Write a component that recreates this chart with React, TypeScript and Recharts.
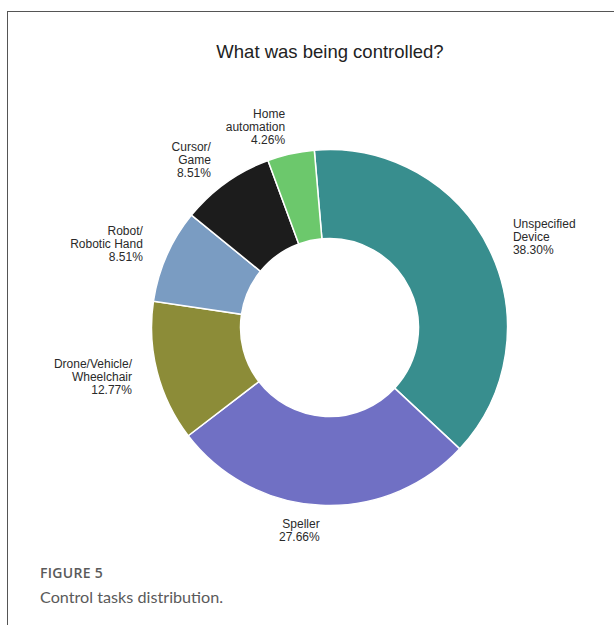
import React from "react";
import { PieChart, Pie, Cell } from "recharts";

const categories = [
  "Unspecified\nDevice",
  "Speller",
  "Drone/Vehicle/\nWheelchair",
  "Robot/\nRobotic Hand",
  "Cursor/\nGame",
  "Home\nautomation",
];
const counts = [18, 13, 6, 4, 4, 2];
const colors = ["#388E8E", "#7070C4", "#8C8C38", "#7A9CC2", "#1C1C1C", "#6CC86C"];
const title = "What was being controlled?";
const figureLabel = "FIGURE 5";
const caption = "Control tasks distribution.";

const data = categories.map((name, i) => ({ name, value: counts[i] }));

const RADIAN = Math.PI / 180;
const LABEL_GAP = 26;
const LINE_H = 13;

const renderLabel = (props: any) => {
  const { cx, cy, midAngle, outerRadius, percent, name } = props;
  const r = outerRadius + LABEL_GAP;
  const x = cx + r * Math.cos(-midAngle * RADIAN);
  const y = cy + r * Math.sin(-midAngle * RADIAN);
  const lines = [...String(name).split("\n"), (percent * 100).toFixed(2) + "%"];
  const anchor = x > cx + 1 ? "start" : "end";
  const n = lines.length;
  return (
    <text
      x={x}
      y={y}
      textAnchor={anchor}
      fill="#2a2a2a"
      fontSize={12}
      fontFamily="'Liberation Sans', Arial, sans-serif"
    >
      {lines.map((ln, i) => (
        <tspan key={i} x={x} y={y + 3 + (i - (n - 1) / 2) * LINE_H}>
          {ln}
        </tspan>
      ))}
    </text>
  );
};

export default function App() {
  return (
    <div
      style={{
        position: "absolute",
        left: 0,
        top: 0,
        width: 614,
        height: 625,
        background: "#fff",
        overflow: "hidden",
      }}
    >
      <div style={{ position: "absolute", left: 7, top: 11, width: 607, height: 1, background: "#555" }} />
      <div style={{ position: "absolute", left: 7, top: 11, width: 1, height: 614, background: "#555" }} />
      <div style={{ position: "absolute", left: 0, top: 0 }}>
        <PieChart width={614} height={625} margin={{ top: 0, right: 0, bottom: 0, left: 0 }}>
          <text
            x={330}
            y={58}
            textAnchor="middle"
            fontSize={18.5}
            fill="#222"
            fontFamily="'Liberation Sans', Arial, sans-serif"
          >
            {title}
          </text>
          <Pie
            data={data}
            dataKey="value"
            nameKey="name"
            cx={329.5}
            cy={327.5}
            innerRadius={89}
            outerRadius={178}
            startAngle={94.9}
            endAngle={-265.1}
            stroke="#ffffff"
            strokeWidth={1.5}
            label={renderLabel}
            labelLine={false}
            isAnimationActive={false}
          >
            {data.map((d, i) => (
              <Cell key={d.name} fill={colors[i]} />
            ))}
          </Pie>
        </PieChart>
      </div>
      <div
        style={{
          position: "absolute",
          left: 40,
          top: 564,
          fontFamily: "'Open Sans', sans-serif",
          fontWeight: 600,
          fontSize: 14,
          letterSpacing: 0.3,
          color: "#5a5a5a",
          lineHeight: "18px",
        }}
      >
        {figureLabel}
      </div>
      <div
        style={{
          position: "absolute",
          left: 40,
          top: 586,
          fontFamily: "Lato, sans-serif",
          fontWeight: 400,
          fontSize: 16.2,
          color: "#5a5a5a",
          lineHeight: "22px",
        }}
      >
        {caption}
      </div>
    </div>
  );
}
